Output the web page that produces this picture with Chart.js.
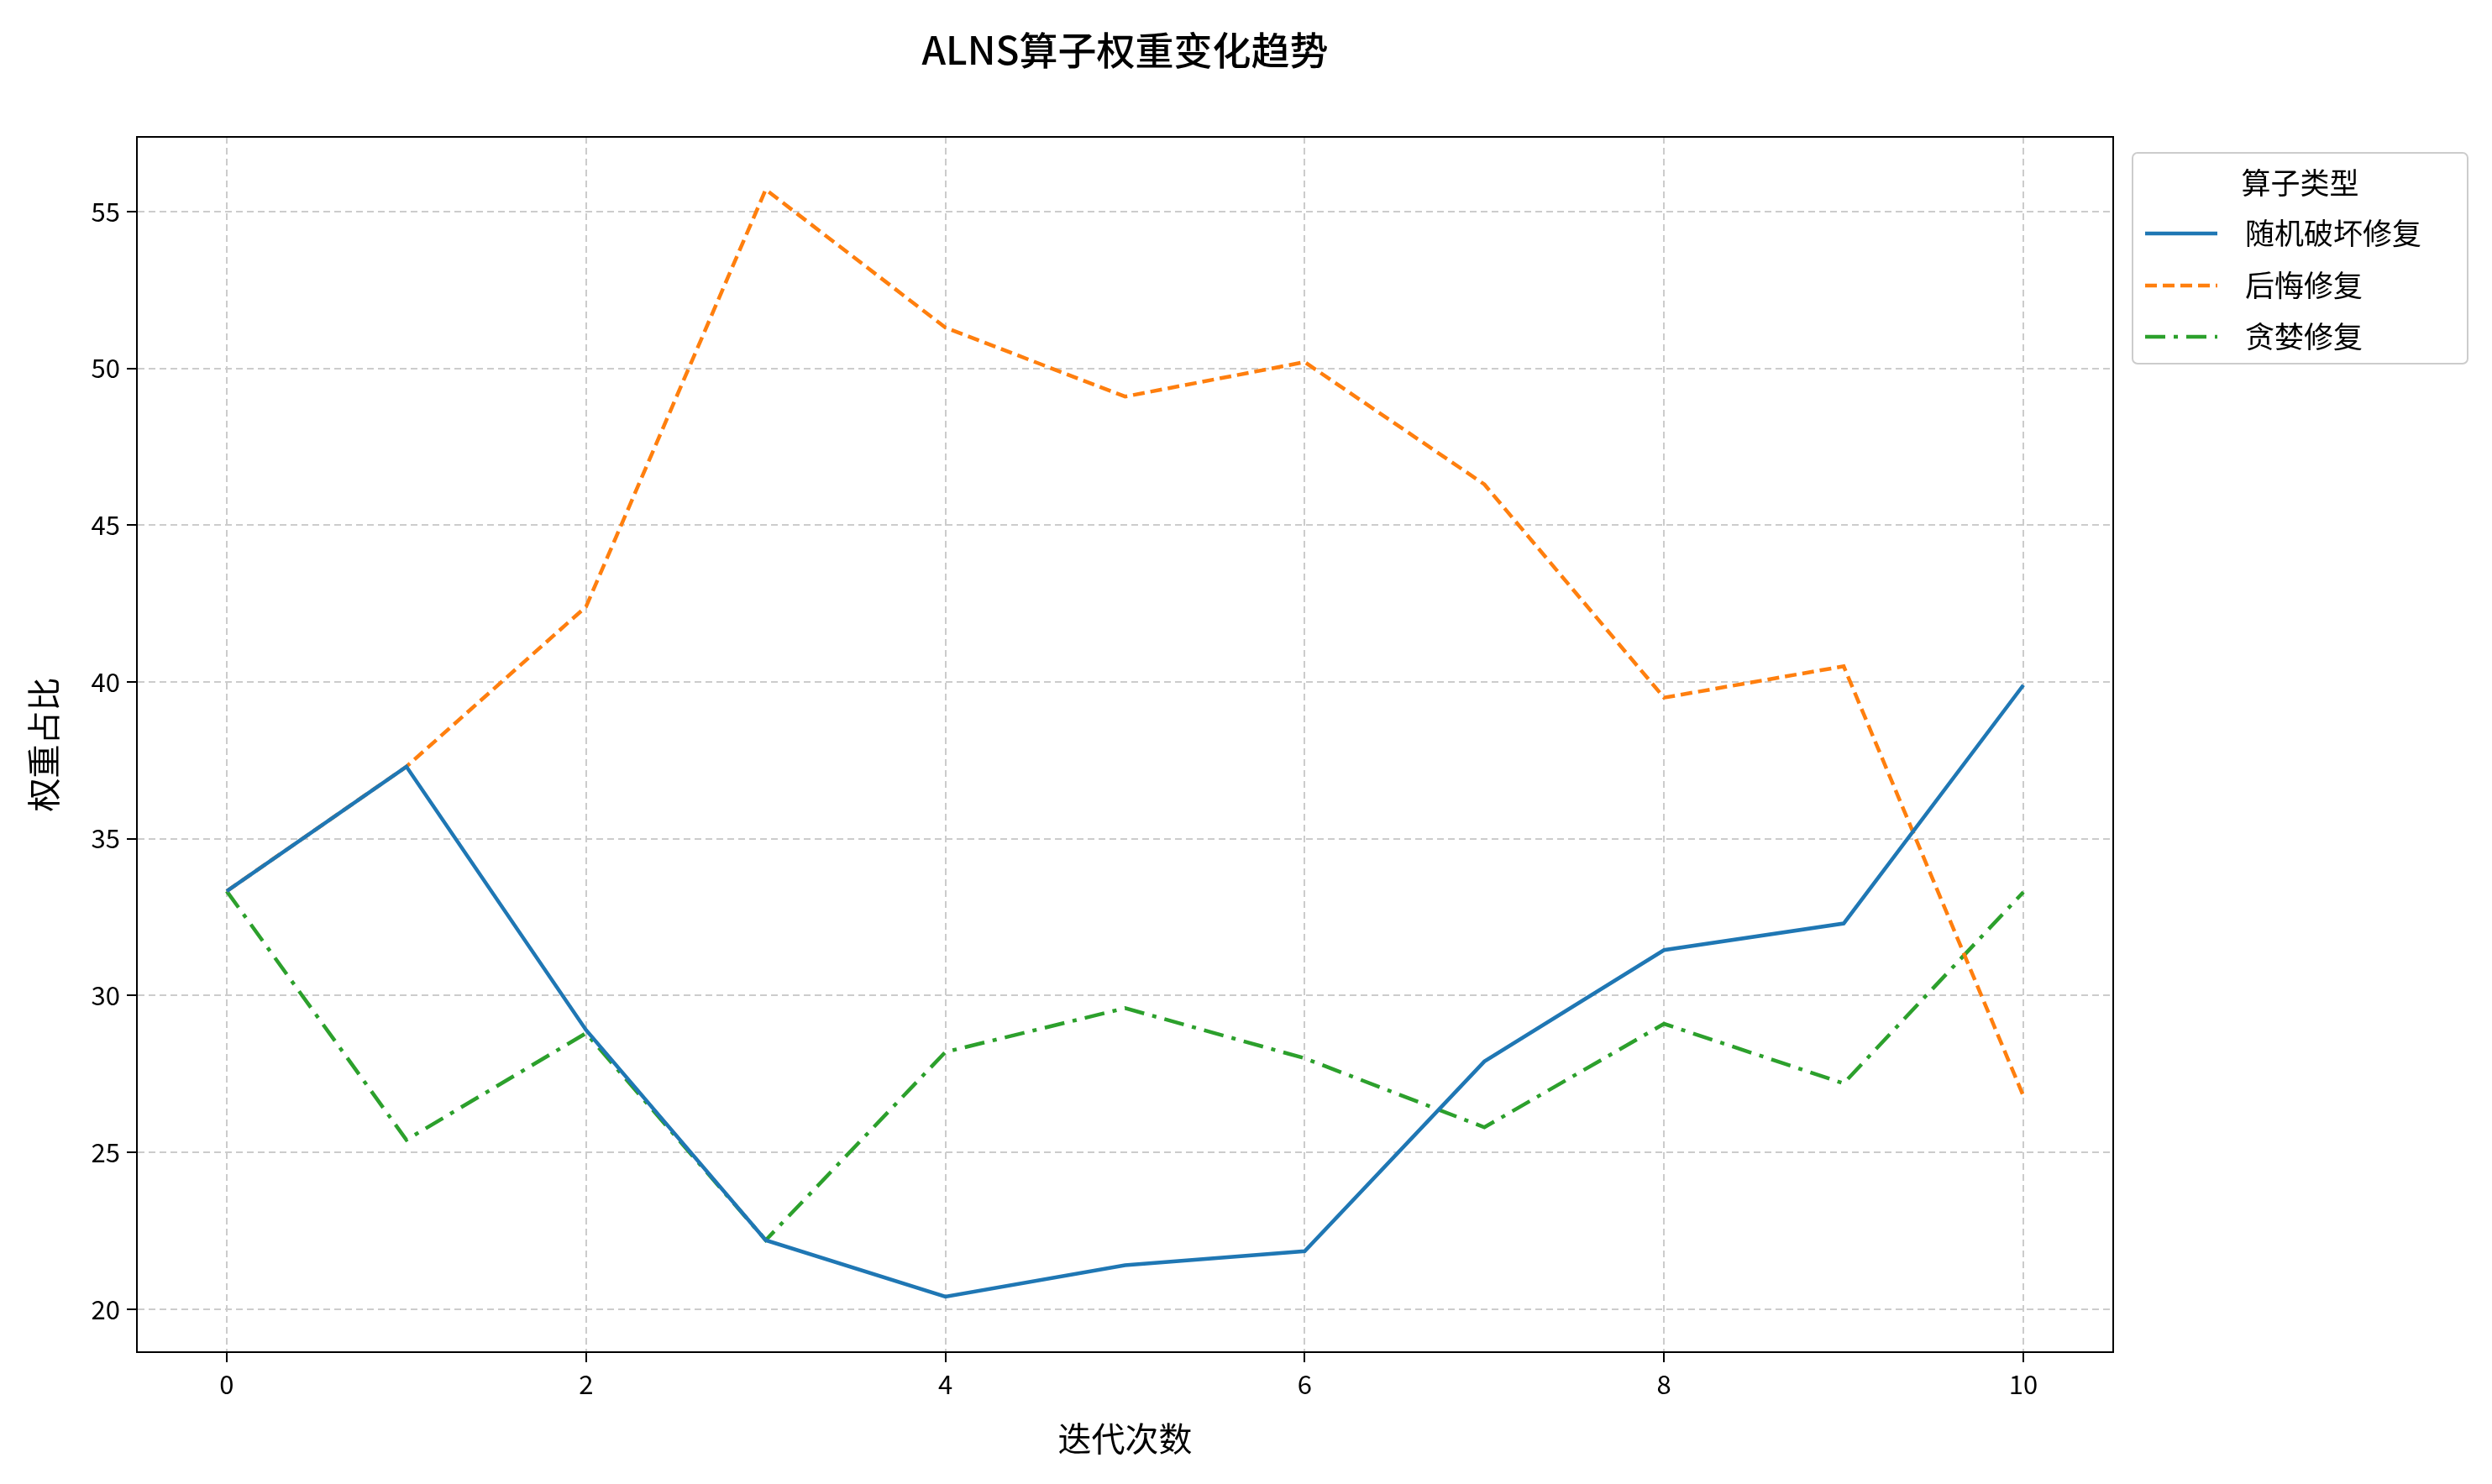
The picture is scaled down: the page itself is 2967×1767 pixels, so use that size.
<!DOCTYPE html>
<html><head><meta charset="utf-8">
<script src="https://cdn.jsdelivr.net/npm/chart.js@4"></script>
<style>html,body{margin:0;padding:0;background:#fff}</style>
</head><body>
<canvas id="c" width="2967" height="1767"></canvas>
<script>
const iterations = [0,1,2,3,4,5,6,7,8,9,10];
const randomRepair = [33.33,37.3,28.9,22.2,20.4,21.4,21.85,27.9,31.45,32.3,39.9];
const regretRepair = [33.33,37.3,42.4,55.7,51.3,49.1,50.2,46.3,39.5,40.5,26.8];
const greedyRepair = [33.33,25.4,28.8,22.2,28.2,29.6,28.0,25.8,29.1,27.2,33.3];
const seriesNames = ['随机破坏修复','后悔修复','贪婪修复'];
const FONT = '"Noto Sans CJK SC", "DejaVu Sans", sans-serif';
const mk = (arr) => arr.map((v,i)=>({x:iterations[i],y:v}));
const legendPlugin = {
  id:'customLegend',
  afterDraw(chart){
    const ctx = chart.ctx;
    ctx.save();
    ctx.fillStyle='#000'; ctx.font='500 46px '+FONT; ctx.textAlign='center'; ctx.textBaseline='middle';
    ctx.fillText('ALNS算子权重变化趋势',(chart.chartArea.left+chart.chartArea.right)/2,60);
    const x0=2539,y0=182,w=399,h=251;
    ctx.fillStyle='rgba(255,255,255,0.8)'; ctx.strokeStyle='#cccccc'; ctx.lineWidth=2;
    ctx.beginPath(); ctx.roundRect(x0,y0,w,h,6); ctx.fill(); ctx.stroke();
    ctx.fillStyle='#000'; ctx.font='35px '+FONT; ctx.textAlign='center';
    ctx.fillText('算子类型',x0+w/2,218);
    const ys=[278,340,401];
    chart.data.datasets.forEach((ds,i)=>{
      ctx.strokeStyle=ds.borderColor; ctx.lineWidth=ds.borderWidth; ctx.setLineDash(ds.borderDash||[]);
      ctx.beginPath(); ctx.moveTo(2554,ys[i]); ctx.lineTo(2640,ys[i]); ctx.stroke();
      ctx.setLineDash([]); ctx.fillStyle='#000'; ctx.textAlign='left';
      ctx.fillText(ds.label,2673,ys[i]);
    });
    ctx.restore();
  }
};
const gridOpts = {color:'#cccccc',lineWidth:2,tickColor:'#000',tickLength:12,drawTicks:true};
new Chart(document.getElementById('c'),{
  type:'line',
  data:{datasets:[
    {label:seriesNames[0],data:mk(randomRepair),borderColor:'#1f77b4',borderWidth:4.5,pointRadius:0,fill:false},
    {label:seriesNames[1],data:mk(regretRepair),borderColor:'#ff7f0e',borderWidth:4.5,pointRadius:0,borderDash:[14,7],fill:false},
    {label:seriesNames[2],data:mk(greedyRepair),borderColor:'#2ca02c',borderWidth:4.5,pointRadius:0,borderDash:[24,10,5,10],fill:false}
  ]},
  options:{
    responsive:false,animation:false,
    layout:{padding:{top:163,right:451,left:28,bottom:30}},
    plugins:{legend:{display:false},title:{display:false},tooltip:{enabled:false}},
    scales:{
      x:{type:'linear',min:-0.5,max:10.5,
        afterBuildTicks(s){s.ticks=[0,2,4,6,8,10].map(v=>({value:v}));},
        afterFit(s){s.height=127;},
        grid:{...gridOpts},border:{display:true,color:'#000',width:2,dash:[8,5]},
        ticks:{color:'#000',font:{family:FONT,size:31},padding:8,maxRotation:0},
        title:{display:true,text:'迭代次数',color:'#000',font:{family:FONT,size:40},padding:{top:4,bottom:0}}
      },
      y:{type:'linear',min:18.63,max:57.38,
        afterBuildTicks(s){s.ticks=[20,25,30,35,40,45,50,55].map(v=>({value:v}));},
        afterFit(s){s.width=135;},
        grid:{...gridOpts},border:{display:true,color:'#000',width:2,dash:[8,5]},
        ticks:{color:'#000',font:{family:FONT,size:31},padding:8},
        title:{display:true,text:'权重占比',color:'#000',font:{family:FONT,size:40},padding:{top:0,bottom:4}}
      }
    }
  },
  plugins:[legendPlugin,{
    id:'frame',
    beforeDatasetsDraw(chart){
      const {ctx,chartArea:a}=chart;
      ctx.save();ctx.strokeStyle='#000';ctx.lineWidth=2;ctx.setLineDash([]);
      ctx.strokeRect(a.left,a.top,a.right-a.left,a.bottom-a.top);ctx.restore();
    }
  }]
});
</script>
</body></html>
